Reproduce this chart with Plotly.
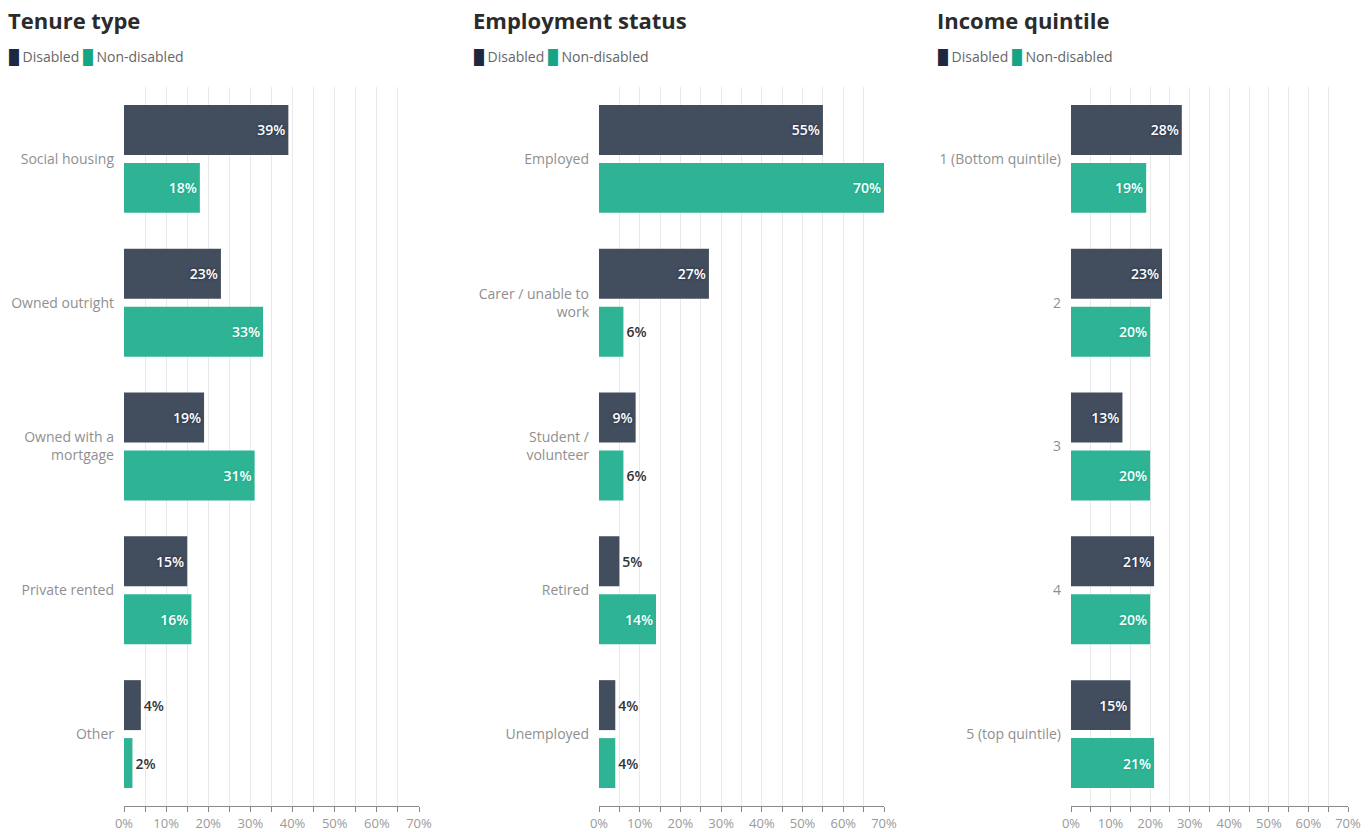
import plotly.graph_objects as go

W, H = 1371, 832

panel_titles = ["Tenure type", "Employment status", "Income quintile"]
tenure_cats = ["Social housing", "Owned outright", "Owned with a<br>mortgage", "Private rented", "Other"]
tenure_disabled = [39, 23, 19, 15, 4]
tenure_non = [18, 33, 31, 16, 2]
employment_cats = ["Employed", "Carer / unable to<br>work", "Student /<br>volunteer", "Retired", "Unemployed"]
employment_disabled = [55, 27, 9, 5, 4]
employment_non = [70, 6, 6, 14, 4]
income_cats = ["1 (Bottom quintile)", "2", "3", "4", "5 (top quintile)"]
income_disabled = [28, 23, 13, 21, 15]
income_non = [19, 20, 20, 20, 21]
series_names = ["Disabled", "Non-disabled"]
tick_vals = list(range(0, 75, 5))
tick_text = [f"{v}%" if v % 10 == 0 else "" for v in tick_vals]

BAR_COLORS = ["#424d5e", "#2eb494"]
LEG_COLORS = ["#1c2840", "#13a584"]
FONT = "Open Sans"

panels = [
    (tenure_cats, tenure_disabled, tenure_non),
    (employment_cats, employment_disabled, employment_non),
    (income_cats, income_disabled, income_non),
]
# pixel extents of each plot area
x_px = [(124, 419), (599, 884), (1071, 1348)]
title_x_px = [6, 471, 935]
y_top_px, y_bot_px = 87, 806

fig = go.Figure()
layout = dict(
    width=W, height=H,
    margin=dict(l=0, r=0, t=0, b=0, autoexpand=False),
    paper_bgcolor="white", plot_bgcolor="white",
    barmode="group", bargap=0.194, bargroupgap=0.138,
    font=dict(family=FONT, color="#888888", size=13),
    showlegend=False,
    annotations=[],
)

for i, (cats, dis, non) in enumerate(panels):
    ax = "" if i == 0 else str(i + 1)
    for s, vals in enumerate([dis, non]):
        pos = ["inside" if v >= 9 else "outside" for v in vals]
        fig.add_trace(go.Bar(
            y=cats, x=vals, orientation="h",
            name=series_names[s],
            marker=dict(color=BAR_COLORS[s], line=dict(width=0)),
            text=[f"{v}%" for v in vals],
            textposition=pos,
            insidetextanchor="end",
            insidetextfont=dict(color="white", size=14, family=FONT, weight=600,
                                shadow="0px 0px 3px " + LEG_COLORS[s]),
            outsidetextfont=dict(color="#333333", size=14, family=FONT, weight=600),
            cliponaxis=False,
            xaxis="x" + ax, yaxis="y" + ax,
        ))
    x0, x1 = x_px[i]
    layout["xaxis" + ax] = dict(
        domain=[x0 / W, x1 / W], range=[0, 70], anchor="y" + ax,
        tickvals=tick_vals, ticktext=tick_text,
        showgrid=True, gridcolor="#e9e9e9", gridwidth=1,
        zeroline=False, automargin=False,
        showline=True, linecolor="#8a8a8a", linewidth=1,
        ticks="outside", ticklen=5, tickcolor="#8a8a8a",
        tickfont=dict(size=13, color="#9a9a9a", family=FONT),
        fixedrange=True,
    )
    layout["yaxis" + ax] = dict(
        domain=[1 - y_bot_px / H, 1 - y_top_px / H], anchor="x" + ax,
        autorange="reversed", type="category", automargin=False,
        showgrid=False, zeroline=False, showline=False, ticks="",
        ticklabelstandoff=9,
        tickfont=dict(size=14, color="#8f8f8f", family=FONT),
        fixedrange=True,
    )
    legend_text = (
        f'<span style="color:{LEG_COLORS[0]}">█</span> {series_names[0]} '
        f'<span style="color:{LEG_COLORS[1]}">█</span> {series_names[1]}'
    )
    layout["annotations"].append(dict(
        text=legend_text, x=(title_x_px[i] + 1) / W, y=1 - 57 / H,
        xref="paper", yref="paper", xanchor="left", yanchor="middle",
        showarrow=False, font=dict(size=14, color="#666666", family=FONT),
    ))
    layout["annotations"].append(dict(
        text=f"<b>{panel_titles[i]}</b>", x=title_x_px[i] / W, y=1 - 20 / H,
        xref="paper", yref="paper", xanchor="left", yanchor="middle",
        showarrow=False, font=dict(size=22, color="#2b2b2b", family=FONT),
    ))

fig.update_layout(**layout)
fig.write_html("out.html")
